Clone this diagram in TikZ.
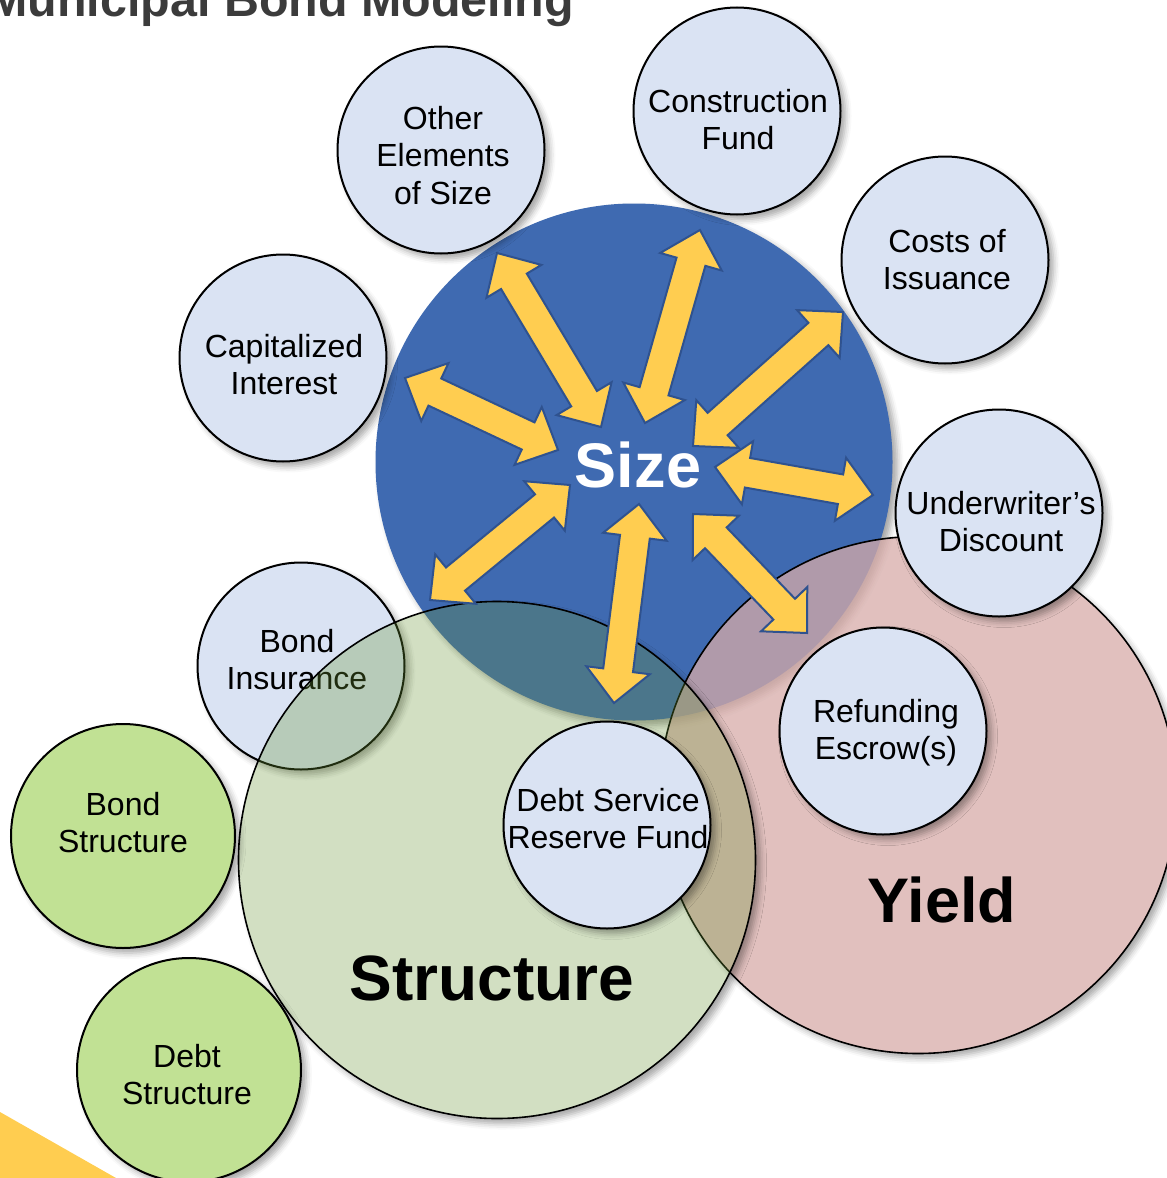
\documentclass[tikz,border=0pt]{standalone}
\usepackage{fontspec}
\setmainfont{Liberation Sans}
\usepackage{tikz}
\usetikzlibrary{positioning, calc}
\usetikzlibrary{shadows.blur}

\definecolor{sizeblue}{RGB}{63,106,177}
\definecolor{arrowyellow}{RGB}{255,205,80}
\definecolor{arrowline}{RGB}{47,82,143}
\definecolor{elemfill}{RGB}{218,227,243}
\definecolor{bondgreen}{RGB}{193,225,148}
\definecolor{structfill}{RGB}{105,148,52}
\definecolor{yieldfill}{RGB}{215,171,168}
\definecolor{titlegray}{RGB}{59,59,59}

\begin{document}
\begin{tikzpicture}[x=0.5pt, y=-0.5pt]
 	\def\shaft{7.5pt}
 	\def\headw{16pt}
 	\def\headl{16.5pt}
 	\tikzstyle{soft-shadow}=[blur shadow={shadow xshift=2.5pt, shadow yshift=-2.5pt, shadow blur radius=3pt, shadow opacity=35}]
 	\tikzstyle{big-node}=[circle, inner sep=0pt, minimum size=258.5pt]
 	\tikzstyle{e-node}=[circle, draw=black, line width=1pt, fill=elemfill, inner sep=0pt, minimum size=103.5pt, soft-shadow]
 	\tikzstyle{g-node}=[circle, draw=black, line width=1pt, fill=bondgreen, inner sep=0pt, minimum size=112pt, soft-shadow]
 	\tikzstyle{e-label}=[align=center, inner sep=0pt, font=\fontsize{16}{18.75}\selectfont, execute at begin node=\strut, execute at end node=\strut]
 	\tikzstyle{big-label}=[anchor=base, inner sep=0pt, font=\fontsize{31.5}{36}\selectfont\bfseries]
 	\tikzstyle{s-arrow}=[fill=arrowyellow, draw=arrowline, line width=1pt, line join=miter]
 	\useasboundingbox (0,0) rectangle (1167,1178);

 	% title and corner
 	\node[anchor=base east, inner sep=0pt, font=\fontsize{24.2}{28}\selectfont\bfseries, text=titlegray] (title) at (574,17) {Municipal Bond Modeling};
 	\fill[arrowyellow] (0,1112) -- (116,1178) -- (0,1178) -- cycle;

 	% size circle
 	\node[big-node, fill=sizeblue, soft-shadow] (size) at (634,462) {};

 	% yield circle
 	\begin{scope}[even odd rule]
 		\clip (-20,-20) rectangle (1200,1200) (918,795) circle[radius=258];
 		\path[soft-shadow] (918,795) circle[radius=258];
 	\end{scope}
 	\node[big-node, draw=black, line width=0.8pt, fill=yieldfill, fill opacity=0.75] (yield) at (918,795) {};

 	% bond insurance sits under structure
 	\node[e-node] (insurance) at (301,666) {};
 	\node[e-label] (insurance-label) at (297,665) {Bond\\Insurance};

 	% structure circle
 	\begin{scope}[even odd rule]
 		\clip (-20,-20) rectangle (1200,1200) (497,860) circle[radius=258.5];
 		\path[soft-shadow] (497,860) circle[radius=258.5];
 	\end{scope}
 	\node[big-node, draw=black, line width=0.8pt, fill=structfill, fill opacity=0.3] (structure) at (497,860) {};

 	% size arrows
 	\coordinate (in1) at (601,427);	\coordinate (out1) at (497,253);
 	\coordinate (in2) at (645,423);	\coordinate (out2) at (700,230);
 	\coordinate (in3) at (693,446);	\coordinate (out3) at (843,312);
 	\coordinate (in4) at (715,467);	\coordinate (out4) at (873,495);
 	\coordinate (in5) at (693,514);	\coordinate (out5) at (807,633);
 	\coordinate (in6) at (639,504);	\coordinate (out6) at (614,703);
 	\coordinate (in7) at (570,485);	\coordinate (out7) at (430,600);
 	\coordinate (in8) at (558,450);	\coordinate (out8) at (405,378);
 	\foreach \i in {1,...,8}
 		\filldraw[s-arrow] (in\i)
 			-- ($(in\i)!\headl!(out\i)!\headw!90:(out\i)$)
 			-- ($(in\i)!\headl!(out\i)!\shaft!90:(out\i)$)
 			-- ($(out\i)!\headl!(in\i)!\shaft!-90:(in\i)$)
 			-- ($(out\i)!\headl!(in\i)!\headw!-90:(in\i)$)
 			-- (out\i)
 			-- ($(out\i)!\headl!(in\i)!\headw!90:(in\i)$)
 			-- ($(out\i)!\headl!(in\i)!\shaft!90:(in\i)$)
 			-- ($(in\i)!\headl!(out\i)!\shaft!-90:(out\i)$)
 			-- ($(in\i)!\headl!(out\i)!\headw!-90:(out\i)$)
 			-- cycle;

 	% elements of size
 	\node[e-node] (other)	at (441,150)	{};
 	\node[e-node] (construction)	at (737,111)	{};
 	\node[e-node] (costs)	at (945,260)	{};
 	\node[e-node] (capitalized)	at (283,358)	{};
 	\node[e-node] (underwriter)	at (999,513)	{};
 	\node[e-node] (refunding)	at (883,731)	{};
 	\node[e-node] (reserve)	at (607,825)	{};
 	\node[e-label] (other-label)	at (443,161)	{Other\\Elements\\of Size};
 	\node[e-label] (construction-label)	at (738,125)	{Construction\\Fund};
 	\node[e-label] (costs-label)	at (947,265)	{Costs of\\Issuance};
 	\node[e-label] (capitalized-label)	at (284,370)	{Capitalized\\Interest};
 	\node[e-label] (underwriter-label)	at (1001,527)	{Underwriter’s\\Discount};
 	\node[e-label] (refunding-label)	at (886,735)	{Refunding\\Escrow(s)};
 	\node[e-label] (reserve-label)	at (608,824)	{Debt Service\\Reserve Fund};

 	% elements of structure
 	\node[g-node] (bond-structure)	at (123,836)	{};
 	\node[g-node] (debt-structure)	at (189,1070)	{};
 	\node[e-label] (bond-structure-label)	at (123,828)	{Bond\\Structure};
 	\node[e-label] (debt-structure-label)	at (187,1080)	{Debt\\Structure};

 	% big labels
 	\node[big-label, text=white] (size-label) at (638,487) {Size};
 	\node[big-label, font=\fontsize{32}{36}\selectfont\bfseries] (structure-label) at (492,1000) {Structure};
 	\node[big-label] (yield-label) at (942,922) {Yield};
\end{tikzpicture}
\end{document}
